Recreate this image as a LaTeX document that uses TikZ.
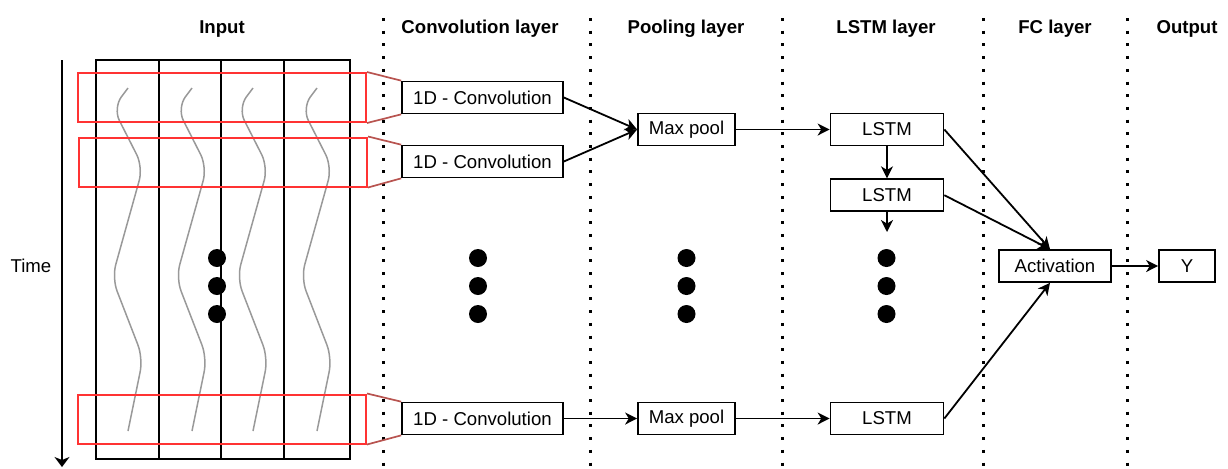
\documentclass[tikz,border=0pt]{standalone}
\usepackage{fontspec}
\setmainfont{Liberation Sans}
\usetikzlibrary{arrows.meta,positioning}
\definecolor{winred}{RGB}{255,51,51}
\definecolor{linkred}{RGB}{184,84,80}

\begin{document}
\begin{tikzpicture}[x=0.5pt,y=-0.5pt,
        font=\fontsize{9.3}{11}\selectfont,
        >={Stealth[length=6pt,width=6pt,inset=1.8pt]},
        box/.style={draw,line width=0.85pt,inner sep=0pt,minimum height=16pt},
        win/.style={draw=winred,line width=1pt,inner sep=0pt,minimum width=144pt,minimum height=24.5pt},
        head/.style={font=\fontsize{9.3}{11}\selectfont\bfseries,anchor=base},
        sep/.style={line width=1.5pt,dash pattern=on 1.5pt off 4.85pt},
        wave/.style={black!40,line width=0.75pt,rounded corners=7pt},
        bigdot/.style={circle,fill,inner sep=0pt,minimum size=9pt},
        link/.style={->,line width=0.9pt}]

    \useasboundingbox (0,0) rectangle (1228,468);

    % column titles
    \node[head] (hin) at (222,33) {Input};
    \node[head] (hconv) at (480,33) {Convolution layer};
    \node[head] (hpool) at (686,33) {Pooling layer};
    \node[head] (hlstm) at (886,33) {LSTM layer};
    \node[head] (hfc) at (1055,33) {FC layer};
    \node[head] (hout) at (1187,33) {Output};

    % dotted separators
    \foreach \x in {383,590.5,782.5,983,1127}
        \draw[sep] (\x,18) -- (\x,468);

    % time axis
    \node (time) at (31,266) {Time};
    \coordinate (t0) at (62,60);
    \coordinate (t1) at (62,467);
    \draw[->,line width=1pt,>={Stealth[length=5pt,width=7.5pt,inset=1.5pt]}] (t0) -- (t1);

    % input channels
    \draw[line width=1pt] (96,60) rectangle (350,459);
    \foreach \x in {159,221,284}
        \draw[line width=1pt] (\x,60) -- (\x,459);
    \foreach \c in {0,64,125,189}
        \draw[wave,shift={(\c,0)}] (128,88) -- (113,108) -- (143,167) -- (112,278) -- (143,358) -- (128,431);

    % ellipsis dots
    \foreach \x [count=\i] in {217,478,686.5,886.5}
        \foreach \y [count=\j] in {258,286,314}
            \node[bigdot] (d\i\j) at (\x,\y) {};

    % sliding windows
    \node[win] (win1) at (222,97.5) {};
    \node[win] (win2) at (223,162) {};
    \node[win] (win3) at (222,419) {};

    \node[box,minimum width=80.5pt] (conv1) at (482.5,97.5) {1D - Convolution};
    \node[box,minimum width=80.5pt] (conv2) at (482.5,161.5) {1D - Convolution};
    \node[box,minimum width=80.5pt] (conv3) at (482.5,418.5) {1D - Convolution};
    \node[box,minimum width=48.5pt] (pool1) at (686.5,129.5) {Max pool};
    \node[box,minimum width=48.5pt] (pool2) at (686.5,418.5) {Max pool};
    \node[box,minimum width=56.5pt] (lstm1) at (887,129.5) {LSTM};
    \node[box,minimum width=56.5pt,below=16pt of lstm1] (lstm2) {LSTM};
    \node[box,minimum width=56.5pt] (lstm3) at (887,418.5) {LSTM};
    \node[box,minimum width=56pt] (act) at (1055,266) {Activation};
    \node[box,minimum width=28pt] (out) at (1187,266) {Y};
    \coordinate (more) at (887,232);

    \foreach \i in {1,2,3} {
        \draw[linkred,line width=0.85pt] (win\i.north east) -- (conv\i.north west);
        \draw[linkred,line width=0.85pt] (win\i.south east) -- (conv\i.south west);
    }

    \path[link]
    (conv1.east) edge (pool1.west)
    (conv2.east) edge (pool1.west)
    (conv3) edge (pool2)
    (pool1) edge (lstm1)
    (pool2) edge (lstm3)
    (lstm1) edge (lstm2)
    (lstm2) edge (more)
    (lstm1.east) edge ([xshift=-2.5pt]act.north)
    (lstm2.east) edge ([xshift=-2.5pt]act.north)
    (lstm3.east) edge ([xshift=-2.5pt]act.south)
    (act) edge (out);
\end{tikzpicture}
\end{document}
